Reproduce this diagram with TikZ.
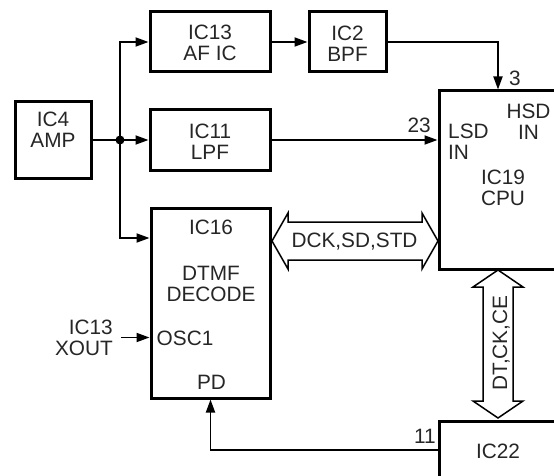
\documentclass[tikz,border=0pt]{standalone}
\usepackage{fontspec}
\setmainfont{Liberation Sans}
\usetikzlibrary{arrows.meta}

\begin{document}
\begin{tikzpicture}[x=1pt, y=-1pt,
  blk/.style={draw, line width=3pt, inner sep=0pt},
  txt/.style={font=\fontsize{20.8}{21}\selectfont, text=black!85, inner sep=0pt, align=center},
  sig/.style={line width=1.8pt, -{Triangle[length=13pt,width=9pt]}},
  bus/.style={line width=1.5pt, line join=miter, fill=white}]

\useasboundingbox (0,0) rectangle (554,476);

% Blocks
\node[blk, minimum width=76pt, minimum height=76pt] (ic4) at (53,140) {};
\node[txt] (ic4txt) at (53,130) {IC4\\AMP};

\node[blk, minimum width=120pt, minimum height=60pt] (ic13) at (210,42) {};
\node[txt] (ic13txt) at (210,43.3) {IC13\\AF IC};

\node[blk, minimum width=120pt, minimum height=60pt] (ic11) at (210,140) {};
\node[txt] (ic11txt) at (210,141.5) {IC11\\LPF};

\node[blk, minimum width=77pt, minimum height=60pt] (ic2) at (347.5,42) {};
\node[txt] (ic2txt) at (347.5,43.3) {IC2\\BPF};

\node[blk, minimum width=119pt, minimum height=190pt] (ic16) at (210.5,303) {};
\node[txt, anchor=base] (ic16txt) at (211,234) {IC16};
\node[txt] (dtmf) at (211,284) {DTMF\\DECODE};
\node[txt, anchor=base west] (osc1) at (156.5,345) {OSC1};
\node[txt, anchor=base] (pd) at (211.5,389.5) {PD};
\node[txt, align=right, anchor=east] (xout) at (113,337.5) {IC13\\XOUT};

\node[blk, minimum width=161pt, minimum height=178pt] (ic19) at (519.5,180) {};
\node[txt, align=left, anchor=west] (lsd) at (448,141.7) {LSD\\IN};
\node[txt] (hsd) at (528.5,122) {HSD\\IN};
\node[txt] (cpu) at (503,188) {IC19\\CPU};

\node[blk, minimum width=161pt, minimum height=98pt] (ic22) at (519.5,470) {};
\node[txt, anchor=base] (ic22txt) at (498,458) {IC22};

% Pin numbers
\node[txt, anchor=base west] (p3) at (509,86) {3};
\node[txt, anchor=base east] (p23) at (431,133) {23};
\node[txt, anchor=base east] (p11) at (436,443) {11};

% Signal lines
\coordinate (jn) at (120,140);
\draw[line width=1.8pt] (ic4.east) -- (jn);
\fill (jn) circle (4.5pt);
\draw[sig] (jn) -- (ic11.west);
\draw[sig] (jn) |- (ic13.west);
\draw[sig] (jn) |- (ic16.west |- 0,238);
\draw[sig] (ic13.east) -- (ic2.west);
\draw[sig] (ic2.east) -| (ic19.north -| 498,0);
\draw[sig] (ic11.east) -- (ic11.east -| ic19.west);
\draw[sig] (ic22.west |- 0,450) -| (ic16.south);
\draw[sig] ([xshift=8pt]xout.east) -- (ic16.west |- xout.east);

% Data buses
\coordinate (busL) at (272,241);
\coordinate (busR) at (438,241);
\draw[bus] (busL) -- ++(16,-28) -- ++(0,9) -- ++(134,0) -- ++(0,-9) -- (busR)
  -- ++(-16,28) -- ++(0,-9) -- ++(-134,0) -- ++(0,9) -- cycle;
\node[txt, anchor=base] (dck) at (354.5,247) {DCK,SD,STD};

\coordinate (busT) at (498,270);
\coordinate (busB) at (498,418);
\draw[bus] (busT) -- ++(25,17) -- ++(-10,0) -- ++(0,114) -- ++(10,0) -- (busB)
  -- ++(-25,-17) -- ++(10,0) -- ++(0,-114) -- ++(-10,0) -- cycle;
\node[txt, rotate=90, anchor=base] (dtck) at (507,343) {DT,CK,CE};

\end{tikzpicture}
\end{document}
